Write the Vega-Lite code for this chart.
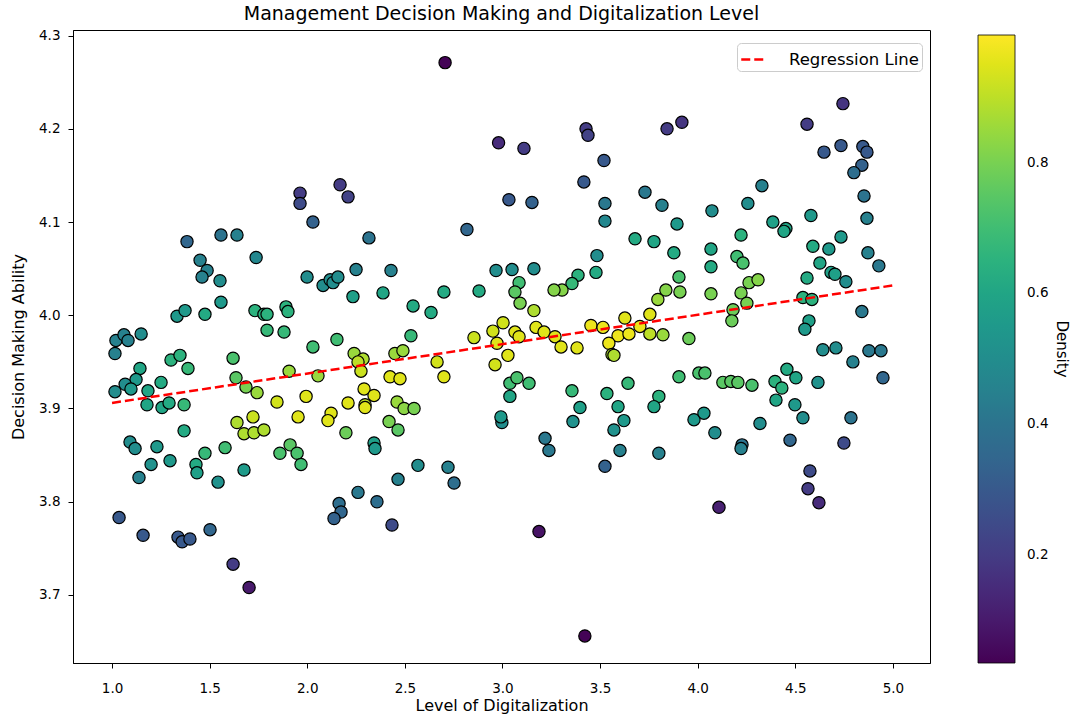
{
  "$schema": "https://vega.github.io/schema/vega-lite/v6.json",
  "width": 857,
  "height": 633,
  "autosize": {"type": "none"},
  "padding": {"left": 73, "top": 30, "right": 143, "bottom": 52},
  "background": "white",
  "title": {"text": "Management Decision Making and Digitalization Level", "fontSize": 19, "fontWeight": "normal", "color": "black", "offset": 5},
  "layer": [
    {
      "data": {"values": [
        {"x":1.384,"y":4.079,"d":0.35},{"x":1.558,"y":4.086,"d":0.40},{"x":1.640,"y":4.086,"d":0.45},
        {"x":2.706,"y":4.271,"d":0.04},{"x":2.980,"y":4.185,"d":0.15},{"x":1.963,"y":4.131,"d":0.20},{"x":1.963,"y":4.120,"d":0.25},{"x":2.168,"y":4.140,"d":0.20},{"x":2.209,"y":4.127,"d":0.22},{"x":2.029,"y":4.100,"d":0.33},{"x":2.316,"y":4.083,"d":0.40},{"x":2.818,"y":4.092,"d":0.35},
        {"x":3.110,"y":4.179,"d":0.20},{"x":3.428,"y":4.200,"d":0.20},{"x":3.438,"y":4.193,"d":0.22},{"x":3.843,"y":4.200,"d":0.20},{"x":3.919,"y":4.207,"d":0.18},{"x":3.520,"y":4.166,"d":0.30},{"x":3.417,"y":4.143,"d":0.30},{"x":3.033,"y":4.124,"d":0.30},{"x":3.151,"y":4.121,"d":0.33},{"x":3.525,"y":4.120,"d":0.42},{"x":3.525,"y":4.101,"d":0.48},{"x":3.730,"y":4.132,"d":0.42},{"x":3.817,"y":4.118,"d":0.45},{"x":3.894,"y":4.098,"d":0.55},{"x":4.073,"y":4.112,"d":0.50},{"x":3.679,"y":4.082,"d":0.62},{"x":3.776,"y":4.079,"d":0.60},
        {"x":4.744,"y":4.227,"d":0.18},{"x":4.560,"y":4.205,"d":0.20},{"x":4.647,"y":4.175,"d":0.30},{"x":4.734,"y":4.182,"d":0.30},{"x":4.846,"y":4.181,"d":0.30},{"x":4.867,"y":4.175,"d":0.30},{"x":4.841,"y":4.161,"d":0.33},{"x":4.800,"y":4.153,"d":0.38},{"x":4.852,"y":4.128,"d":0.40},{"x":4.867,"y":4.104,"d":0.45},{"x":4.329,"y":4.139,"d":0.45},{"x":4.257,"y":4.120,"d":0.50},{"x":4.385,"y":4.100,"d":0.58},{"x":4.452,"y":4.093,"d":0.60},{"x":4.442,"y":4.090,"d":0.60},{"x":4.580,"y":4.107,"d":0.55},{"x":4.222,"y":4.086,"d":0.65},{"x":4.734,"y":4.084,"d":0.55},
        {"x":1.451,"y":4.059,"d":0.45},{"x":1.487,"y":4.048,"d":0.45},{"x":1.461,"y":4.041,"d":0.45},{"x":1.553,"y":4.037,"d":0.50},{"x":1.558,"y":4.014,"d":0.55},{"x":1.738,"y":4.062,"d":0.48},{"x":1.333,"y":3.999,"d":0.55},{"x":1.374,"y":4.005,"d":0.55},{"x":1.476,"y":4.001,"d":0.62},{"x":1.732,"y":4.005,"d":0.65},{"x":1.778,"y":4.001,"d":0.65},{"x":1.794,"y":4.001,"d":0.65},{"x":1.891,"y":4.009,"d":0.65},{"x":1.901,"y":4.004,"d":0.65},{"x":1.794,"y":3.984,"d":0.68},{"x":1.881,"y":3.982,"d":0.68},
        {"x":1.020,"y":3.973,"d":0.45},{"x":1.061,"y":3.979,"d":0.45},{"x":1.082,"y":3.973,"d":0.45},{"x":1.149,"y":3.980,"d":0.50},{"x":1.015,"y":3.959,"d":0.45},{"x":1.302,"y":3.952,"d":0.65},{"x":1.348,"y":3.957,"d":0.65},{"x":1.389,"y":3.943,"d":0.68},{"x":1.620,"y":3.954,"d":0.72},{"x":1.143,"y":3.943,"d":0.60},{"x":1.123,"y":3.931,"d":0.55},{"x":1.067,"y":3.926,"d":0.50},{"x":1.097,"y":3.921,"d":0.55},{"x":1.015,"y":3.918,"d":0.50},{"x":1.184,"y":3.919,"d":0.60},{"x":1.251,"y":3.928,"d":0.62},{"x":1.635,"y":3.933,"d":0.75},{"x":1.686,"y":3.923,"d":0.80},{"x":1.743,"y":3.917,"d":0.85},{"x":1.845,"y":3.907,"d":0.93},{"x":1.907,"y":3.940,"d":0.85},
        {"x":1.179,"y":3.904,"d":0.60},{"x":1.256,"y":3.901,"d":0.60},{"x":1.292,"y":3.906,"d":0.62},{"x":1.369,"y":3.904,"d":0.68},{"x":1.369,"y":3.876,"d":0.62},{"x":1.640,"y":3.885,"d":0.88},{"x":1.722,"y":3.891,"d":0.92},{"x":1.676,"y":3.873,"d":0.88},{"x":1.727,"y":3.874,"d":0.88},{"x":1.778,"y":3.877,"d":0.88},{"x":1.092,"y":3.864,"d":0.50},{"x":1.118,"y":3.857,"d":0.50},{"x":1.230,"y":3.859,"d":0.55},{"x":1.476,"y":3.852,"d":0.68},{"x":1.579,"y":3.858,"d":0.70},{"x":1.860,"y":3.852,"d":0.72},{"x":1.912,"y":3.861,"d":0.75},
        {"x":1.999,"y":4.041,"d":0.50},{"x":2.081,"y":4.032,"d":0.50},{"x":2.117,"y":4.038,"d":0.50},{"x":2.132,"y":4.035,"d":0.50},{"x":2.157,"y":4.041,"d":0.50},{"x":2.250,"y":4.049,"d":0.45},{"x":2.429,"y":4.048,"d":0.45},{"x":2.234,"y":4.020,"d":0.58},{"x":2.388,"y":4.024,"d":0.60},{"x":2.542,"y":4.010,"d":0.62},{"x":2.634,"y":4.003,"d":0.62},{"x":2.700,"y":4.025,"d":0.62},{"x":2.880,"y":4.026,"d":0.62},{"x":2.967,"y":4.048,"d":0.50},
        {"x":2.029,"y":3.966,"d":0.70},{"x":2.152,"y":3.974,"d":0.70},{"x":2.531,"y":3.978,"d":0.68},{"x":2.854,"y":3.976,"d":0.92},{"x":2.951,"y":3.983,"d":0.93},{"x":2.972,"y":3.970,"d":0.95},{"x":2.240,"y":3.959,"d":0.85},{"x":2.286,"y":3.953,"d":0.88},{"x":2.260,"y":3.950,"d":0.90},{"x":2.275,"y":3.940,"d":0.92},{"x":2.449,"y":3.959,"d":0.85},{"x":2.490,"y":3.962,"d":0.85},{"x":2.665,"y":3.950,"d":0.93},{"x":2.700,"y":3.934,"d":0.95},{"x":2.962,"y":3.947,"d":0.93},{"x":2.055,"y":3.935,"d":0.85},{"x":2.424,"y":3.934,"d":0.95},{"x":2.475,"y":3.932,"d":0.95},{"x":1.994,"y":3.913,"d":0.95},{"x":1.953,"y":3.891,"d":0.95},
        {"x":2.291,"y":3.921,"d":0.95},{"x":2.342,"y":3.914,"d":0.95},{"x":2.209,"y":3.906,"d":0.95},{"x":2.296,"y":3.904,"d":0.90},{"x":2.296,"y":3.901,"d":0.95},{"x":2.460,"y":3.907,"d":0.85},{"x":2.496,"y":3.900,"d":0.83},{"x":2.547,"y":3.900,"d":0.80},{"x":2.122,"y":3.895,"d":0.95},{"x":2.106,"y":3.887,"d":0.95},{"x":2.419,"y":3.886,"d":0.80},{"x":2.465,"y":3.877,"d":0.75},{"x":2.198,"y":3.874,"d":0.78},{"x":2.342,"y":3.863,"d":0.58},{"x":2.347,"y":3.857,"d":0.55},{"x":1.948,"y":3.852,"d":0.72},{"x":1.968,"y":3.840,"d":0.70},{"x":2.997,"y":3.885,"d":0.50},{"x":2.992,"y":3.891,"d":0.55},
        {"x":3.049,"y":4.049,"d":0.50},{"x":3.161,"y":4.050,"d":0.50},{"x":3.484,"y":4.064,"d":0.50},{"x":3.479,"y":4.046,"d":0.62},{"x":3.387,"y":4.043,"d":0.65},{"x":3.356,"y":4.034,"d":0.68},{"x":3.305,"y":4.027,"d":0.82},{"x":3.264,"y":4.027,"d":0.82},{"x":3.085,"y":4.035,"d":0.70},{"x":3.064,"y":4.025,"d":0.75},{"x":3.090,"y":4.013,"d":0.80},{"x":3.161,"y":4.005,"d":0.88},{"x":3.003,"y":3.992,"d":0.93},{"x":3.064,"y":3.982,"d":0.95},{"x":3.085,"y":3.977,"d":0.95},{"x":3.172,"y":3.987,"d":0.95},{"x":3.213,"y":3.982,"d":0.95},{"x":3.269,"y":3.977,"d":0.95},{"x":3.300,"y":3.966,"d":0.95},{"x":3.382,"y":3.965,"d":0.95},{"x":3.028,"y":3.957,"d":0.95},
        {"x":3.453,"y":3.989,"d":0.97},{"x":3.515,"y":3.987,"d":0.97},{"x":3.627,"y":3.997,"d":0.95},{"x":3.704,"y":3.988,"d":0.97},{"x":3.755,"y":4.001,"d":0.95},{"x":3.592,"y":3.978,"d":0.97},{"x":3.648,"y":3.980,"d":0.97},{"x":3.545,"y":3.970,"d":0.97},{"x":3.561,"y":3.958,"d":0.88},{"x":3.571,"y":3.957,"d":0.88},{"x":3.755,"y":3.980,"d":0.90},{"x":3.822,"y":3.979,"d":0.85},{"x":3.955,"y":3.975,"d":0.78},{"x":3.796,"y":4.017,"d":0.85},{"x":3.837,"y":4.027,"d":0.82},{"x":3.904,"y":4.041,"d":0.72},{"x":3.909,"y":4.025,"d":0.80},{"x":3.878,"y":4.067,"d":0.62},{"x":4.068,"y":4.052,"d":0.62},{"x":4.068,"y":4.071,"d":0.60},{"x":4.068,"y":4.023,"d":0.80},
        {"x":3.038,"y":3.927,"d":0.70},{"x":3.074,"y":3.933,"d":0.72},{"x":3.136,"y":3.927,"d":0.70},{"x":3.038,"y":3.913,"d":0.60},{"x":3.356,"y":3.919,"d":0.68},{"x":3.397,"y":3.901,"d":0.58},{"x":3.361,"y":3.886,"d":0.52},{"x":3.535,"y":3.916,"d":0.65},{"x":3.592,"y":3.902,"d":0.60},{"x":3.622,"y":3.887,"d":0.55},{"x":3.571,"y":3.877,"d":0.52},{"x":3.643,"y":3.927,"d":0.68},{"x":3.801,"y":3.913,"d":0.65},{"x":3.776,"y":3.902,"d":0.60},{"x":3.904,"y":3.934,"d":0.70},{"x":4.006,"y":3.938,"d":0.72},{"x":4.037,"y":3.938,"d":0.72},{"x":3.981,"y":3.888,"d":0.55},{"x":4.032,"y":3.895,"d":0.55},{"x":4.088,"y":3.874,"d":0.50},{"x":3.218,"y":3.868,"d":0.42},{"x":3.238,"y":3.855,"d":0.42},{"x":3.602,"y":3.855,"d":0.45},{"x":3.801,"y":3.852,"d":0.45},
        {"x":3.525,"y":3.838,"d":0.33},{"x":3.187,"y":3.768,"d":0.08},{"x":3.422,"y":3.656,"d":0.04},{"x":4.109,"y":3.794,"d":0.12},
        {"x":4.201,"y":4.063,"d":0.70},{"x":4.232,"y":4.056,"d":0.72},{"x":4.263,"y":4.035,"d":0.80},{"x":4.309,"y":4.038,"d":0.82},{"x":4.222,"y":4.024,"d":0.80},{"x":4.252,"y":4.013,"d":0.80},{"x":4.181,"y":4.006,"d":0.78},{"x":4.175,"y":3.994,"d":0.78},{"x":4.590,"y":4.074,"d":0.62},{"x":4.672,"y":4.071,"d":0.55},{"x":4.626,"y":4.056,"d":0.60},{"x":4.683,"y":4.046,"d":0.58},{"x":4.703,"y":4.044,"d":0.58},{"x":4.759,"y":4.036,"d":0.50},{"x":4.872,"y":4.067,"d":0.45},{"x":4.928,"y":4.053,"d":0.42},{"x":4.560,"y":4.040,"d":0.62},{"x":4.539,"y":4.019,"d":0.65},{"x":4.585,"y":4.017,"d":0.65},{"x":4.570,"y":3.994,"d":0.58},{"x":4.549,"y":3.985,"d":0.55},{"x":4.841,"y":4.004,"d":0.42},
        {"x":4.641,"y":3.963,"d":0.50},{"x":4.708,"y":3.965,"d":0.50},{"x":4.795,"y":3.950,"d":0.45},{"x":4.877,"y":3.962,"d":0.42},{"x":4.939,"y":3.962,"d":0.42},{"x":4.949,"y":3.933,"d":0.35},{"x":4.129,"y":3.928,"d":0.75},{"x":4.170,"y":3.929,"d":0.75},{"x":4.206,"y":3.928,"d":0.75},{"x":4.278,"y":3.925,"d":0.72},{"x":4.396,"y":3.929,"d":0.65},{"x":4.431,"y":3.922,"d":0.65},{"x":4.457,"y":3.942,"d":0.62},{"x":4.503,"y":3.933,"d":0.60},{"x":4.616,"y":3.928,"d":0.52},{"x":4.401,"y":3.909,"d":0.60},{"x":4.498,"y":3.904,"d":0.55},{"x":4.539,"y":3.890,"d":0.50},{"x":4.785,"y":3.890,"d":0.40},{"x":4.319,"y":3.884,"d":0.50},{"x":4.227,"y":3.861,"d":0.40},{"x":4.222,"y":3.857,"d":0.45},{"x":4.473,"y":3.866,"d":0.35},{"x":4.749,"y":3.863,"d":0.25},
        {"x":4.575,"y":3.833,"d":0.25},{"x":4.565,"y":3.814,"d":0.20},{"x":4.621,"y":3.799,"d":0.15},
        {"x":1.430,"y":3.840,"d":0.62},{"x":1.435,"y":3.831,"d":0.58},{"x":1.200,"y":3.840,"d":0.52},{"x":1.297,"y":3.844,"d":0.55},{"x":1.138,"y":3.826,"d":0.45},{"x":1.543,"y":3.821,"d":0.52},{"x":1.676,"y":3.834,"d":0.56},{"x":1.036,"y":3.783,"d":0.30},{"x":1.159,"y":3.764,"d":0.30},{"x":1.338,"y":3.762,"d":0.30},{"x":1.359,"y":3.757,"d":0.30},{"x":1.399,"y":3.760,"d":0.30},{"x":1.502,"y":3.770,"d":0.35},{"x":1.620,"y":3.733,"d":0.20},{"x":1.702,"y":3.708,"d":0.10},
        {"x":2.567,"y":3.839,"d":0.50},{"x":2.721,"y":3.837,"d":0.45},{"x":2.752,"y":3.820,"d":0.38},{"x":2.465,"y":3.824,"d":0.45},{"x":2.260,"y":3.810,"d":0.42},{"x":2.357,"y":3.800,"d":0.38},{"x":2.163,"y":3.798,"d":0.38},{"x":2.173,"y":3.789,"d":0.35},{"x":2.137,"y":3.782,"d":0.33},{"x":2.434,"y":3.775,"d":0.25}
      ]},
      "mark": {"type": "point", "filled": true, "shape": "circle", "size": 150, "stroke": "black", "strokeWidth": 1.2, "opacity": 1},
      "encoding": {
        "x": {"field": "x", "type": "quantitative", "scale": {"domain": [0.8, 5.19], "nice": false, "zero": false},
              "axis": {"values": [1, 1.5, 2, 2.5, 3, 3.5, 4, 4.5, 5], "format": ".1f", "title": "Level of Digitalization", "labelPadding": 13, "titlePadding": 3}},
        "y": {"field": "y", "type": "quantitative", "scale": {"domain": [3.627, 4.306], "nice": false, "zero": false},
              "axis": {"values": [3.7, 3.8, 3.9, 4.0, 4.1, 4.2, 4.3], "format": ".1f", "title": "Decision Making Ability", "labelPadding": 8, "titlePadding": 12}},
        "fill": {"field": "d", "type": "quantitative", "scale": {"scheme": "viridis", "domain": [0.035, 0.995]},
                 "legend": {"orient": "none", "legendX": 905, "legendY": 5, "direction": "vertical", "gradientLength": 628, "gradientThickness": 37,
                            "values": [0.2, 0.4, 0.6, 0.8], "format": ".1f", "title": "Density", "titleOrient": "right", "titleAngle": 270,
                            "titleAnchor": "middle", "titleFontSize": 15, "titleFontWeight": "normal", "titleColor": "black", "titlePadding": 6,
                            "labelFontSize": 13.5, "labelColor": "black", "labelOffset": 12, "gradientStrokeColor": "black", "gradientStrokeWidth": 0.8, "labelOverlap": false}}
      }
    },
    {
      "data": {"values": [
        {"x": 1.0, "y": 3.906, "s": "Regression Line"},
        {"x": 5.0, "y": 4.032, "s": "Regression Line"}
      ]},
      "mark": {"type": "line", "color": "red", "strokeWidth": 2.5},
      "encoding": {
        "x": {"field": "x", "type": "quantitative"},
        "y": {"field": "y", "type": "quantitative"},
        "strokeDash": {"field": "s", "type": "nominal", "scale": {"range": [[9, 4]]},
                       "legend": {"orient": "none", "legendX": 664, "legendY": 13, "title": null, "symbolType": "stroke", "symbolStrokeColor": "red",
                                  "symbolStrokeWidth": 2.5, "symbolSize": 600, "labelFontSize": 16.5, "labelColor": "black", "labelOffset": 22,
                                  "fillColor": "white", "strokeColor": "#cccccc", "cornerRadius": 4, "padding": 3}}
      }
    }
  ],
  "config": {
    "font": "DejaVu Sans",
    "view": {"stroke": "black", "strokeWidth": 1},
    "axis": {"grid": false, "domainColor": "black", "tickColor": "black", "labelColor": "black", "titleColor": "black",
             "labelFontSize": 13.5, "titleFontSize": 16, "titleFontWeight": "normal", "tickSize": 5}
  }
}
